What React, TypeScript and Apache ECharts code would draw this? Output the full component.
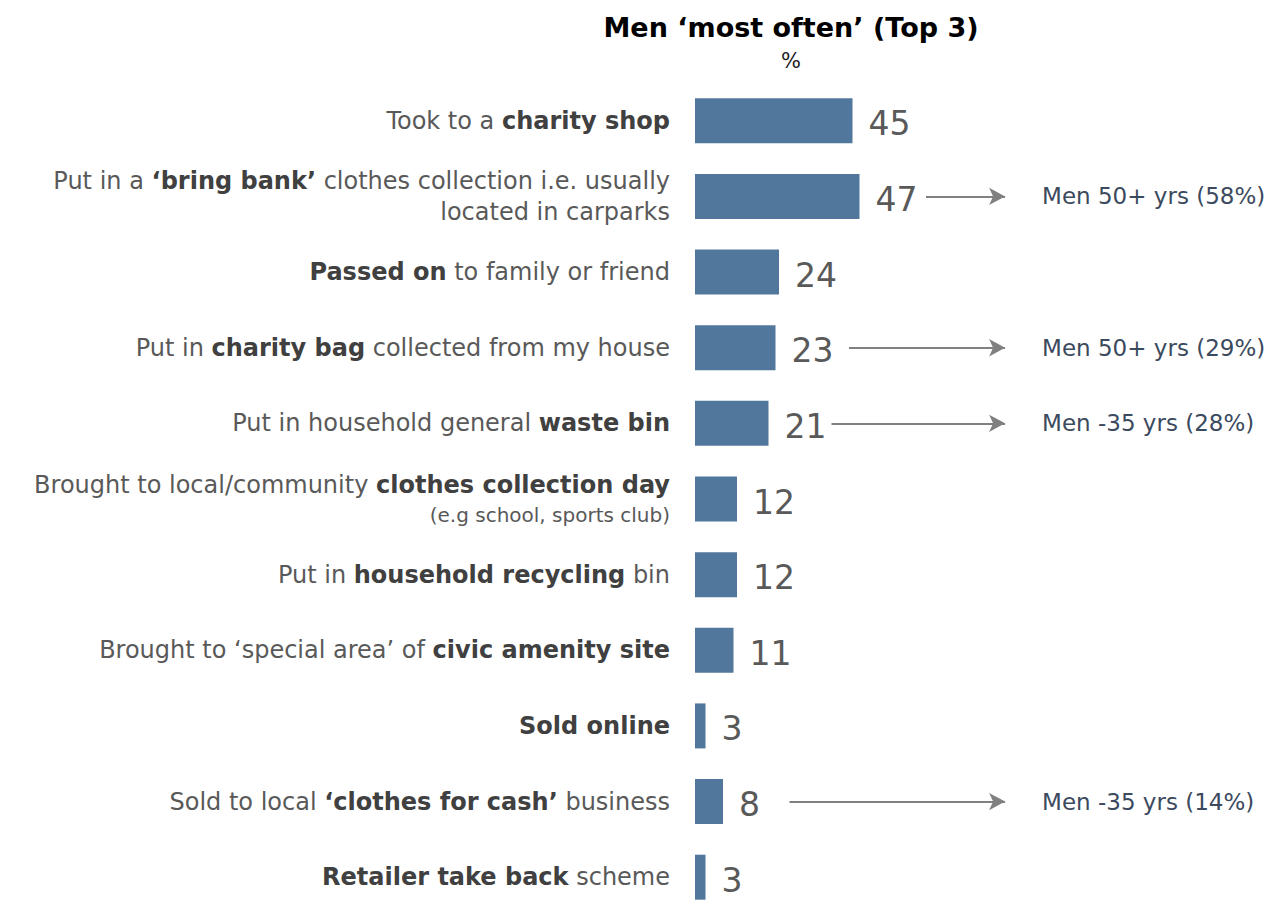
import React, { useEffect, useRef } from "react";
import * as echarts from "echarts";

const categories = [
  "Took to a {b|charity shop}",
  "Put in a {b|‘bring bank’} clothes collection i.e. usually\nlocated in carparks",
  "{b|Passed on} to family or friend",
  "Put in {b|charity bag} collected from my house",
  "Put in household general {b|waste bin}",
  "Brought to local/community {b|clothes collection day}\n{s|(e.g school, sports club)}",
  "Put in {b|household recycling} bin",
  "Brought to ‘special area’ of {b|civic amenity site}",
  "{b|Sold online}",
  "Sold to local {b|‘clothes for cash’} business",
  "{b|Retailer take back} scheme",
];
const values = [45, 47, 24, 23, 21, 12, 12, 11, 3, 8, 3];

const annotationIndex = [1, 3, 4, 9];
const annotationText = [
  "Men 50+ yrs (58%)",
  "Men 50+ yrs (29%)",
  "Men -35 yrs (28%)",
  "Men -35 yrs (14%)",
];
const arrowFrom = [66, 44, 39, 27];
const arrowTo = 88.6;

const FONT = "DejaVu Sans";

export default function App() {
  const ref = useRef<HTMLDivElement>(null);
  useEffect(() => {
    if (!ref.current) return;
    const chart = echarts.init(ref.current, undefined, { renderer: "svg" });
    const markData = annotationIndex.map((ci, i) => [
      { coord: [arrowFrom[i], ci], name: annotationText[i] },
      { coord: [arrowTo, ci] },
    ]);
    chart.setOption({
      animation: false,
      title: {
        text: "Men ‘most often’ (Top 3)",
        subtext: "%",
        left: 786,
        textAlign: "center",
        top: 9,
        itemGap: 9,
        textStyle: { fontFamily: FONT, fontSize: 27, fontWeight: "bold", color: "#000" },
        subtextStyle: { fontFamily: FONT, fontSize: 21, color: "#222" },
      },
      grid: { left: 695, right: 226, top: 83, bottom: 5, containLabel: false },
      xAxis: { type: "value", min: 0, max: 100, show: false },
      yAxis: {
        type: "category",
        inverse: true,
        data: categories,
        axisLine: { show: false },
        axisTick: { show: false },
        axisLabel: {
          margin: 25,
          fontFamily: FONT,
          fontSize: 24,
          color: "#595959",
          lineHeight: 31,
          align: "right",
          rich: {
            b: { fontFamily: FONT, fontSize: 24, fontWeight: "bold", color: "#404040", lineHeight: 31 },
            s: { fontFamily: FONT, fontSize: 20, color: "#595959", lineHeight: 28 },
          },
        },
      },
      series: [
        {
          type: "bar",
          data: values,
          barWidth: 45,
          itemStyle: { color: "#52779c" },
          label: {
            show: true,
            position: "right",
            distance: 16,
            offset: [0, 3],
            fontFamily: FONT,
            fontSize: 33,
            color: "#595959",
          },
          markLine: {
            silent: true,
            symbol: ["none", "arrow"],
            symbolSize: [13, 16],
            lineStyle: { color: "#808080", width: 2, type: "solid" },
            label: {
              show: true,
              position: "end",
              distance: 37,
              formatter: (p: any) => p.name,
              fontFamily: FONT,
              fontSize: 23,
              color: "#3b4a5e",
            },
            data: markData,
          },
        },
      ],
    });
    return () => chart.dispose();
  }, []);
  return (
    <div
      ref={ref}
      style={{ position: "fixed", left: 0, top: 0, width: 1271, height: 920, background: "#fff" }}
    />
  );
}
